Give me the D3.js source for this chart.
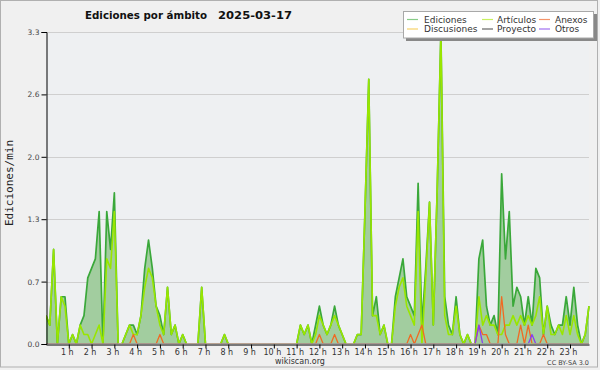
<!DOCTYPE html>
<html><head><meta charset="utf-8">
<script src="https://cdn.jsdelivr.net/npm/d3@7"></script>
<style>body{margin:0;background:#fff}svg{display:block}</style>
</head><body>
<svg id="c" width="600" height="370"></svg>
<script>
// ---- data (10-minute samples, 00:00 .. 23:50) ----
const titleText = "Ediciones por ámbito";
const dateText = "2025-03-17";
const yAxisTitle = "Ediciones/min";
const hourLabels = ["1 h","2 h","3 h","4 h","5 h","6 h","7 h","8 h","9 h","10 h","11 h","12 h","13 h","14 h","15 h","16 h","17 h","18 h","19 h","20 h","21 h","22 h","23 h"];
const yTickValues = [0, 0.66, 1.32, 1.98, 2.64, 3.3];
const yTickLabels = ["0.0","0.7","1.3","2.0","2.6","3.3"];
const seriesNames = ["Ediciones","Artículos","Anexos","Discusiones","Proyecto","Otros"];

const ediciones = [
0.3,0.2,1.0,0,0.5,0.5,0,0.1,0,0.2,0.3,0.7,
0.8,0.9,1.4,0,1.4,1.0,1.6,0,0,0.1,0.2,0.2,
0.1,0.3,0.8,1.1,0.8,0.4,0.3,0.1,0.6,0.1,0.2,0,
0.1,0,0,0,0,0.6,0,0,0,0,0,0.1,
0,0,0,0,0,0,0,0,0,0,0,0,
0,0,0,0,0,0,0,0.2,0.1,0.2,0,0.2,
0.4,0.2,0.1,0.2,0.4,0.2,0.1,0,0,0,0.1,0.1,
1.4,2.8,0.3,0.5,0.1,0.2,0,0,0.5,0.7,0.9,0.5,
0.4,0.3,1.7,0.2,0.8,1.5,0.2,1.6,3.3,0.5,0.2,0.1,
0.5,0.1,0,0.1,0,0,0.9,1.1,0.4,0.2,0.3,0.1,
1.8,0.9,1.4,0.4,0.6,0.5,0.2,0.5,0.2,0.8,0.7,0.1,
0.4,0.2,0.1,0.2,0.2,0.5,0.2,0.6,0.2,0,0.1,0.4];

const articulos = [
0.3,0.2,1.0,0,0.5,0.4,0,0.1,0,0.2,0.1,0.1,
0,0.1,0.2,0,0.9,0.8,1.4,0,0,0.1,0.2,0.1,
0.1,0.3,0.6,0.8,0.7,0.4,0.2,0.1,0.6,0.1,0.2,0,
0.1,0,0,0,0,0.6,0,0,0,0,0,0.1,
0,0,0,0,0,0,0,0,0,0,0,0,
0,0,0,0,0,0,0,0.2,0.1,0.2,0,0.1,
0.3,0.2,0.1,0.2,0.3,0.2,0.1,0,0,0,0.1,0.1,
1.4,2.8,0.3,0.3,0.1,0.2,0,0,0.4,0.6,0.7,0.4,
0.3,0.2,1.4,0,0.7,1.5,0.2,1.6,3.3,0.3,0.1,0.1,
0.4,0.1,0,0.1,0,0,0.5,0.2,0.3,0.2,0.2,0.1,
0.1,0.2,0.2,0.3,0.2,0.3,0.2,0.3,0.2,0.3,0.5,0.1,
0.4,0.1,0.1,0.2,0.1,0.3,0.1,0.3,0.1,0,0.1,0.4];

const anexos = [
0,0,0,0,0,0,0,0,0,0,0,0,
0,0,0,0,0,0,0,0,0,0,0,0.1,
0,0,0,0,0,0,0.1,0,0,0,0,0,
0,0,0,0,0,0,0,0,0,0,0,0,
0,0,0,0,0,0,0,0,0,0,0,0,
0,0,0,0,0,0,0,0,0,0,0,0,
0.1,0,0,0,0.1,0,0,0,0,0,0,0,
0,0,0,0,0,0,0,0,0,0,0,0,
0.1,0,0.1,0.2,0,0,0,0,0,0,0,0,
0,0,0,0,0,0,0.2,0.1,0.1,0,0,0,
0.5,0.1,0,0,0,0.2,0,0.2,0,0,0,0.1,
0,0,0,0,0,0,0,0,0,0,0,0];

const discusiones = new Array(144).fill(0);
const proyecto = new Array(144).fill(0);

const otros = [
0,0,0,0,0,0,0,0,0,0,0,0,
0,0,0,0,0,0,0,0,0,0,0,0,
0,0,0,0,0,0,0,0,0,0,0,0,
0,0,0,0,0,0,0,0,0,0,0,0,
0,0,0,0,0,0,0,0,0,0,0,0,
0,0,0,0,0,0,0,0,0,0,0,0,
0,0,0,0,0,0,0,0,0,0,0,0,
0,0,0,0,0,0,0,0,0,0,0,0,
0,0,0,0,0,0,0,0,0,0,0,0,
0,0,0,0,0,0,0.2,0,0,0,0,0,
0,0,0,0,0,0,0,0,0.1,0,0,0,
0,0,0,0,0,0,0,0,0,0,0,0];

// ---- drawing ----
const svg = d3.select("#c");
const L = 46, R = 589, T = 32, B = 344;
const x = d3.scaleLinear().domain([0, 143]).range([L, R]);
const y = d3.scaleLinear().domain([0, 3.3]).range([B, T]);

svg.append("defs").append("clipPath").attr("id","plotclip")
  .append("rect").attr("x",L).attr("y",T-4).attr("width",R-L+2).attr("height",B-T+4-0.7);

svg.append("rect").attr("x",0).attr("y",0).attr("width",600).attr("height",370).attr("fill","#f0f0f0");
svg.append("rect").attr("x",0.5).attr("y",0.5).attr("width",597).attr("height",366.5)
  .attr("fill","none").attr("stroke","#b0b0b0");
svg.append("rect").attr("x",L).attr("y",T).attr("width",R-L).attr("height",B-T).attr("fill","#eef0f2");

// grid
svg.append("g").selectAll("line").data(yTickValues.slice(1)).join("line")
  .attr("x1",L).attr("x2",R).attr("y1",d=>Math.round(y(d))+0.5).attr("y2",d=>Math.round(y(d))+0.5)
  .attr("stroke","#cfcfcf").attr("stroke-width",1);

// area of total
const idx = d3.range(ediciones.length);
svg.append("path").datum(idx)
  .attr("d", d3.area().x(i=>x(i)).y0(y(0)).y1(i=>y(ediciones[i])))
  .attr("fill","#a2cd9f");

const series = [
  {name:"Ediciones", data:ediciones, color:"#3aa83a", w:1.7},
  {name:"Artículos", data:articulos, color:"#99e600", w:1.6},
  {name:"Discusiones", data:discusiones, color:"#f2c84b", w:1.2},
  {name:"Proyecto", data:proyecto, color:"#555555", w:1.2},
  {name:"Anexos", data:anexos, color:"#f06a23", w:1.3},
  {name:"Otros", data:otros, color:"#8a3ef0", w:1.3}
];
const gl = svg.append("g").attr("clip-path","url(#plotclip)");
const line = d3.line();
series.forEach(s=>{
  gl.append("path").datum(idx)
    .attr("d", line.x(i=>x(i)).y(i=>y(s.data[i])))
    .attr("fill","none").attr("stroke",s.color).attr("stroke-width",s.w)
    .attr("stroke-linejoin","round");
});

// y axis
const yMinor = d3.range(0, 21).map(k=>k*0.165);
const gy = svg.append("g").attr("transform",`translate(${L+0.5},0)`);
gy.call(d3.axisLeft(y).tickValues(yMinor).tickSize(3).tickFormat(""));
gy.call(d3.axisLeft(y).tickValues(yTickValues).tickSize(5).tickFormat((d,i)=>yTickLabels[i]));
gy.selectAll("path.domain").attr("stroke","#000");
gy.selectAll(".tick line").attr("stroke","#000");
gy.selectAll(".tick text").attr("font-family","DejaVu Sans").attr("font-size",7.5).attr("fill","#444").attr("dx","1");

// x axis
const gx = svg.append("g").attr("transform",`translate(0,${B+0.5})`);
gx.call(d3.axisBottom(x).tickValues(idx).tickSize(3).tickFormat("").tickSizeOuter(0));
const hourIdx = hourLabels.map((h,k)=>(k+1)*6);
gx.call(d3.axisBottom(x).tickValues(hourIdx).tickSize(4).tickSizeOuter(0).tickFormat((d,i)=>hourLabels[i]));
gx.selectAll("path.domain").attr("stroke","#000");
gx.selectAll(".tick line").attr("stroke","#000");
gx.selectAll(".tick text").attr("font-family","DejaVu Sans").attr("font-size",8).attr("fill","#333").attr("dy","0.45em").attr("dx","-2");

// titles
svg.append("text").attr("x",85).attr("y",19).text(titleText)
  .attr("font-family","DejaVu Sans").attr("font-weight","bold").attr("font-size",11).attr("fill","#111")
  .attr("textLength",122).attr("lengthAdjust","spacingAndGlyphs");
svg.append("text").attr("x",218).attr("y",19).text(dateText)
  .attr("font-family","DejaVu Sans").attr("font-weight","bold").attr("font-size",11).attr("fill","#111")
  .attr("textLength",74).attr("lengthAdjust","spacingAndGlyphs");
svg.append("text").attr("transform","translate(13,183) rotate(-90)").attr("text-anchor","middle")
  .text(yAxisTitle).attr("font-family","DejaVu Sans Mono").attr("font-size",11).attr("fill","#222");
svg.append("text").attr("x",300).attr("y",364).attr("text-anchor","middle").text("wikiscan.org")
  .attr("font-family","DejaVu Sans").attr("font-size",8).attr("fill","#333");
svg.append("text").attr("x",589).attr("y",365).attr("text-anchor","end").text("CC BY-SA 3.0")
  .attr("font-family","DejaVu Sans").attr("font-size",6.5).attr("fill","#444");

// legend
const leg = svg.append("g");
leg.append("rect").attr("x",406).attr("y",14).attr("width",191).attr("height",27).attr("fill","#888");
leg.append("rect").attr("x",403.5).attr("y",11.5).attr("width",190).attr("height",26.5).attr("fill","#fff").attr("stroke","#a8a8a8");
const legendColors = {"Ediciones":"#88cc88","Artículos":"#c8f060","Anexos":"#f5946a","Discusiones":"#f7d36a","Proyecto":"#666666","Otros":"#a070f0"};
const legendPos = [[0,0],[1,0],[2,0],[0,1],[1,1],[2,1]];
const colLine = [407,482,539], colText = [424,497,555], rowY = [19.5,29];
seriesNames.forEach((n,k)=>{
  const [c,r] = legendPos[k];
  leg.append("line").attr("x1",colLine[c]).attr("x2",colLine[c]+11).attr("y1",rowY[r]).attr("y2",rowY[r])
    .attr("stroke",legendColors[n]).attr("stroke-width",1.2);
  leg.append("text").attr("x",colText[c]).attr("y",rowY[r]).attr("dy","0.35em").text(n)
    .attr("font-family","DejaVu Sans").attr("font-size",9).attr("fill","#333");
});
</script>
</body></html>
